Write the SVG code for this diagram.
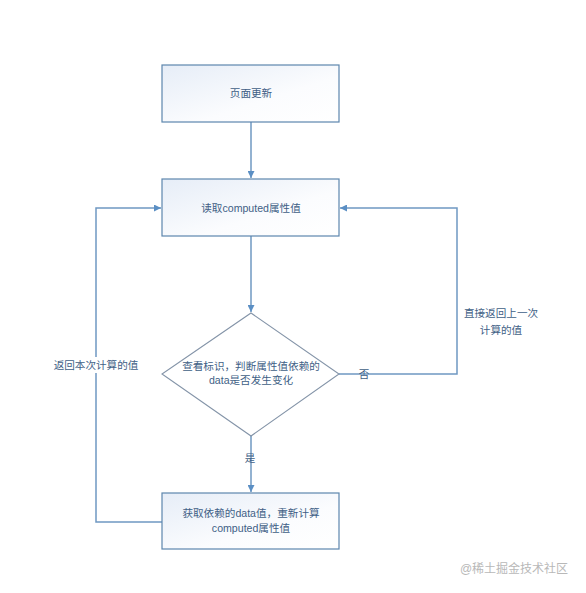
<svg xmlns="http://www.w3.org/2000/svg" width="586" height="593" viewBox="0 0 586 593">
<style>
.box{fill:url(#g);stroke:#5d86ad;stroke-width:1.2}
.dia{fill:#fff;stroke:#8494a8;stroke-width:1.1}
.t{font-family:"Liberation Sans","Noto Sans CJK SC",sans-serif;font-size:10.6px;fill:#3f5f86;text-anchor:middle}
.c{fill:none;stroke:#6f98c2;stroke-width:1.5}
</style>
<defs>
<linearGradient id="g" x1="0" y1="0" x2="1" y2="1">
<stop offset="0" stop-color="#e6edf7"/>
<stop offset="0.6" stop-color="#fbfcfe"/>
<stop offset="1" stop-color="#ffffff"/>
</linearGradient>
<marker id="a" viewBox="0 0 10 10" refX="10" refY="5" markerWidth="7" markerHeight="7" orient="auto" markerUnits="userSpaceOnUse">
<path d="M0,0 L10,5 L0,10 z" fill="#5b8fc4"/>
</marker>
</defs>
<rect width="586" height="593" fill="#fff"/>
<g id="connectors">
<path class="c" d="M251,122 V178" marker-end="url(#a)"/>
<path class="c" d="M251,236 V312" marker-end="url(#a)"/>
<path class="c" d="M251,436 V492" marker-end="url(#a)"/>
<path class="c" d="M162,522 H96 V208 H161" marker-end="url(#a)"/>
<path class="c" d="M339,374 H457 V208 H340" marker-end="url(#a)"/>
<rect x="52" y="357" width="88" height="16" fill="#fff"/>
<text class="t" x="96" y="369">返回本次计算的值</text>
<text class="t" x="364" y="378">否</text>
<text class="t" x="250" y="462">是</text>
<text class="t" x="501" y="317">直接返回上一次</text>
<text class="t" x="501" y="334">计算的值</text>
</g>
<g id="n1">
<rect class="box" x="162" y="65" width="177" height="57"/>
<text class="t" x="251" y="97">页面更新</text>
</g>
<g id="n2">
<rect class="box" x="162" y="179" width="177" height="57"/>
<text class="t" x="251" y="212">读取computed属性值</text>
</g>
<g id="n3">
<polygon class="dia" points="251,313 339,374 251,436 162,374"/>
<text class="t" x="251" y="370">查看标识，判断属性值依赖的</text>
<text class="t" x="251" y="384">data是否发生变化</text>
</g>
<g id="n4">
<rect class="box" x="162" y="493" width="177" height="56"/>
<text class="t" x="251" y="517">获取依赖的data值，重新计算</text>
<text class="t" x="251" y="532">computed属性值</text>
</g>
<text x="514" y="573" font-family="'Liberation Sans','Noto Sans CJK SC',sans-serif" font-size="12" fill="#b8b8b8" text-anchor="middle">@稀土掘金技术社区</text>
</svg>
